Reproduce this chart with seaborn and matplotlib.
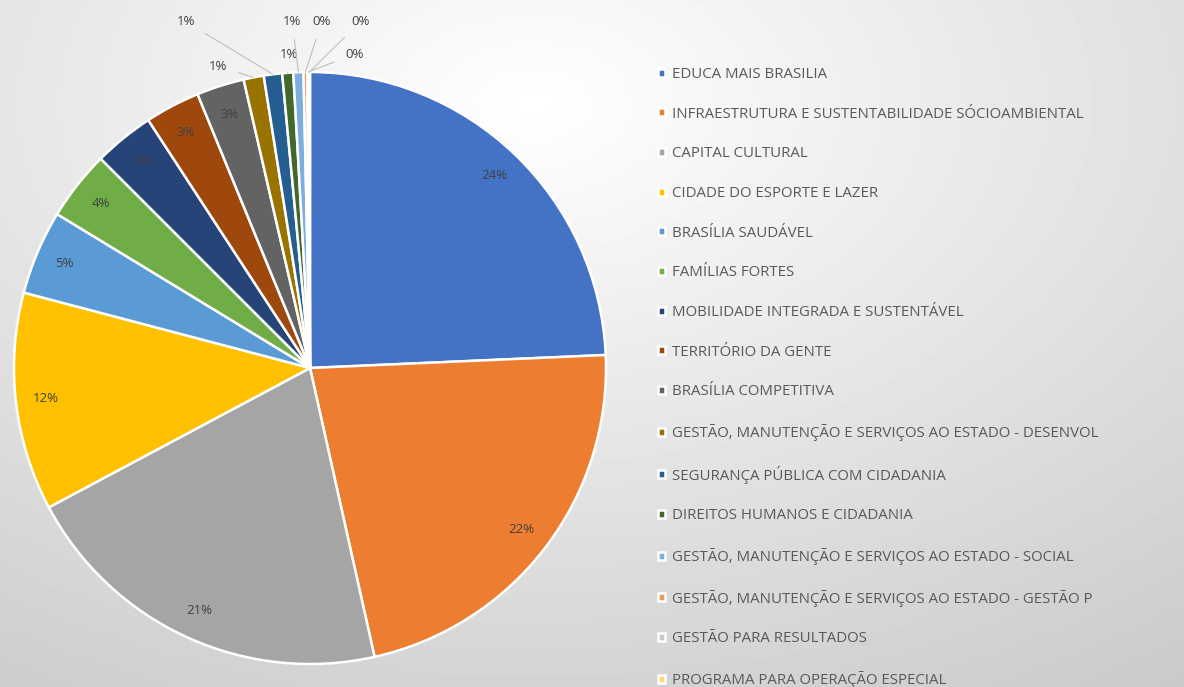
import numpy as np
import matplotlib
matplotlib.use("Agg")
import matplotlib.pyplot as plt
import seaborn as sns

sns.set_theme(style="white")
plt.rcParams['font.family'] = ['Open Sans', 'DejaVu Sans']

# data (share of total, %)
programas = [
    "EDUCA MAIS BRASILIA",
    "INFRAESTRUTURA E SUSTENTABILIDADE SÓCIOAMBIENTAL",
    "CAPITAL CULTURAL",
    "CIDADE DO ESPORTE E LAZER",
    "BRASÍLIA SAUDÁVEL",
    "FAMÍLIAS FORTES",
    "MOBILIDADE INTEGRADA E SUSTENTÁVEL",
    "TERRITÓRIO DA GENTE",
    "BRASÍLIA COMPETITIVA",
    "GESTÃO, MANUTENÇÃO E SERVIÇOS AO ESTADO - DESENVOL",
    "SEGURANÇA PÚBLICA COM CIDADANIA",
    "DIREITOS HUMANOS E CIDADANIA",
    "GESTÃO, MANUTENÇÃO E SERVIÇOS AO ESTADO - SOCIAL",
    "GESTÃO, MANUTENÇÃO E SERVIÇOS AO ESTADO - GESTÃO P",
    "GESTÃO PARA RESULTADOS",
    "PROGRAMA PARA OPERAÇÃO ESPECIAL",
]
valores = [24.3, 22.2, 20.7, 11.9, 4.6, 3.8, 3.3, 3.0, 2.6,
           1.1, 1.0, 0.6, 0.55, 0.2, 0.1, 0.05]
cores = ["#4472C4", "#ED7D31", "#A5A5A5", "#FFC000", "#5B9BD5", "#70AD47",
         "#264478", "#9E480E", "#636363", "#997300", "#255E91", "#43682B",
         "#7CAFDD", "#F1975A", "#C9C9C9", "#FFD966"]

# outside labels for the thin slices (index -> label position)
fora = {9: (-0.31, 1.02), 10: (-0.42, 1.17), 11: (-0.07, 1.06),
        12: (-0.06, 1.17), 13: (0.04, 1.17), 14: (0.15, 1.06), 15: (0.17, 1.17)}

fig = plt.figure(figsize=(11.84, 6.87), dpi=100)

# soft gradient background
bg = fig.add_axes([0, 0, 1, 1], zorder=-10)
yy, xx = np.mgrid[0:1:200j, 0:1:300j]
d = np.sqrt(((xx - 0.45) / 0.9) ** 2 + ((yy - 0.15) / 1.0) ** 2)
bg.imshow(1.0 - 0.2 * d, cmap="gray", vmin=0, vmax=1, aspect="auto")
bg.axis("off")

ax = fig.add_axes([310 / 1184 - 296 / 1184, (687 - 368 - 296) / 687,
                   592 / 1184, 592 / 687])
wedges, _ = ax.pie(valores, colors=cores, startangle=90, counterclock=False,
                   wedgeprops=dict(edgecolor="white", linewidth=1.8))
ax.set_xlim(-1, 1)
ax.set_ylim(-1, 1)

for i, (w, v) in enumerate(zip(wedges, valores)):
    ang = np.deg2rad((w.theta1 + w.theta2) / 2)
    txt = f"{int(v + 0.5)}%"
    if i in fora:
        tx, ty = fora[i]
        ax.annotate(txt, xy=(np.cos(ang), np.sin(ang)), xytext=(tx, ty),
                    ha="center", va="center", fontsize=9.5, color="#404040",
                    arrowprops=dict(arrowstyle="-", color="#BFBFBF", lw=0.8,
                                    shrinkA=6, shrinkB=0))
    else:
        ax.text(0.9 * np.cos(ang), 0.9 * np.sin(ang), txt, ha="center",
                va="center", fontsize=9.5, color="#404040")

fig.legend(wedges, programas, loc="upper left", bbox_to_anchor=(652 / 1184, 1 - 61 / 687),
           frameon=False, fontsize=10.8, labelcolor="#595959",
           handlelength=0.45, handleheight=0.45, handletextpad=0.5,
           labelspacing=1.645, borderaxespad=0)

fig.savefig("out.png", dpi=100)
